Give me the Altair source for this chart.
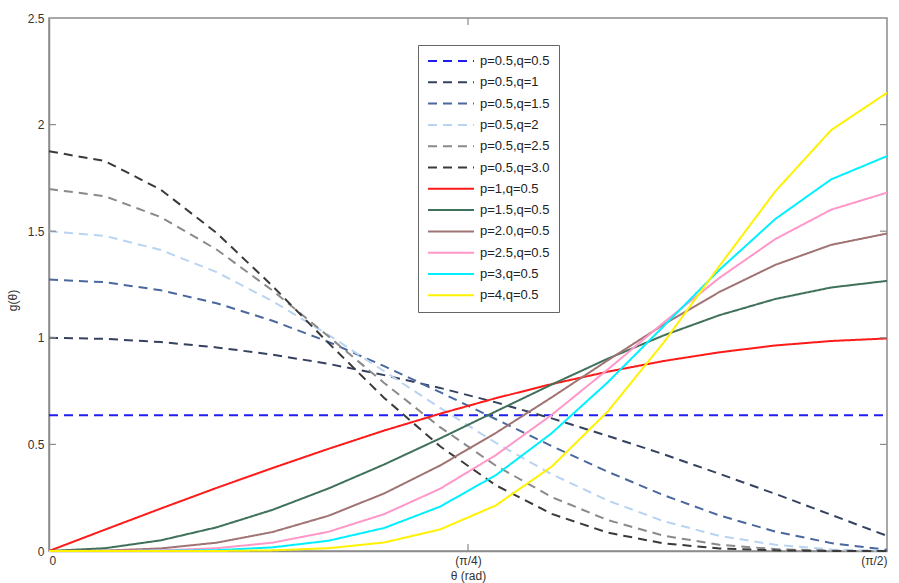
import altair as alt
import pandas as pd

# Sample angles (rad)
theta = [0.0, 0.1, 0.2, 0.3, 0.4, 0.5, 0.6, 0.7, 0.8, 0.9, 1.0, 1.1, 1.2, 1.3, 1.4, 1.5]

series_names = [
    "p=0.5,q=0.5", "p=0.5,q=1", "p=0.5,q=1.5", "p=0.5,q=2", "p=0.5,q=2.5", "p=0.5,q=3.0",
    "p=1,q=0.5", "p=1.5,q=0.5", "p=2.0,q=0.5", "p=2.5,q=0.5", "p=3,q=0.5", "p=4,q=0.5",
]

g_p05_q05 = [0.637, 0.637, 0.637, 0.637, 0.637, 0.637, 0.637, 0.637, 0.637, 0.637, 0.637, 0.637, 0.637, 0.637, 0.637, 0.637]
g_p05_q1 = [1.000, 0.995, 0.980, 0.955, 0.921, 0.878, 0.825, 0.765, 0.697, 0.622, 0.540, 0.454, 0.362, 0.268, 0.170, 0.071]
g_p05_q15 = [1.273, 1.261, 1.223, 1.162, 1.080, 0.981, 0.867, 0.745, 0.618, 0.492, 0.372, 0.262, 0.167, 0.091, 0.037, 0.006]
g_p05_q2 = [1.500, 1.478, 1.412, 1.308, 1.172, 1.014, 0.843, 0.671, 0.507, 0.360, 0.237, 0.140, 0.071, 0.029, 0.007, 0.001]
g_p05_q25 = [1.698, 1.664, 1.566, 1.414, 1.222, 1.007, 0.788, 0.581, 0.400, 0.253, 0.145, 0.072, 0.029, 0.009, 0.001, 0.000]
g_p05_q3 = [1.875, 1.829, 1.695, 1.492, 1.243, 0.976, 0.718, 0.491, 0.308, 0.174, 0.086, 0.036, 0.012, 0.003, 0.000, 0.000]
g_p1_q05 = [0.000, 0.100, 0.199, 0.296, 0.389, 0.479, 0.565, 0.644, 0.717, 0.783, 0.841, 0.891, 0.932, 0.964, 0.985, 0.997]
g_p15_q05 = [0.000, 0.013, 0.050, 0.111, 0.193, 0.293, 0.406, 0.528, 0.655, 0.781, 0.902, 1.011, 1.106, 1.182, 1.236, 1.267]
g_p2_q05 = [0.000, 0.002, 0.012, 0.039, 0.089, 0.165, 0.270, 0.401, 0.554, 0.721, 0.894, 1.062, 1.215, 1.342, 1.436, 1.489]
g_p25_q05 = [0.000, 0.000, 0.003, 0.013, 0.039, 0.090, 0.173, 0.292, 0.450, 0.639, 0.851, 1.071, 1.281, 1.463, 1.601, 1.681]
g_p3_q05 = [0.000, 0.000, 0.001, 0.004, 0.017, 0.048, 0.108, 0.208, 0.356, 0.553, 0.791, 1.054, 1.319, 1.557, 1.743, 1.852]
g_p4_q05 = [0.000, 0.000, 0.000, 0.000, 0.003, 0.013, 0.040, 0.101, 0.214, 0.396, 0.654, 0.977, 1.337, 1.687, 1.974, 2.149]

series_values = [
    g_p05_q05, g_p05_q1, g_p05_q15, g_p05_q2, g_p05_q25, g_p05_q3,
    g_p1_q05, g_p15_q05, g_p2_q05, g_p25_q05, g_p3_q05, g_p4_q05,
]

colors = [
    "#1e1ef0", "#34425f", "#4a679e", "#b8d4f2", "#8a8a8a", "#3a3a3a",
    "#ff1a1a", "#40715a", "#a07474", "#ff98c8", "#00f0ff", "#fff200",
]
DASH = [9, 6]
SOLID = [1, 0]
dashes = [DASH] * 6 + [SOLID] * 6

rows = []
for name, vals in zip(series_names, series_values):
    for t, v in zip(theta, vals):
        rows.append({"theta": t, "g": v, "series": name})
df = pd.DataFrame(rows)

ytick_df = pd.DataFrame({"g": [0.5, 1.0, 1.5, 2.0]})
xtick_df = pd.DataFrame({"theta": [0.75]})

W, H = 838, 533
AXIS = "#8c8c8c"
FONT = "Liberation Sans"
X_TITLE = "θ (rad)"
Y_TITLE = "g(θ)"

x_scale = alt.Scale(domain=[0, 1.5], nice=False, zero=False)
y_scale = alt.Scale(domain=[0, 2.5], nice=False)

x_axis = alt.Axis(
    values=[0, 0.75, 1.5],
    labelExpr="datum.value == 0 ? '0' : (datum.value < 1 ? '(π/4)' : '(π/2)')",
    titleY=24, titleBaseline="middle",
)
y_axis = alt.Axis(
    values=[0, 0.5, 1, 1.5, 2, 2.5], format="~g",
    titleX=-37, titleY=282, titleBaseline="middle",
)

# Legend key: a horizontal stroke drawn as a custom path
legend = alt.Legend(
    orient="none", legendX=369, legendY=27, title=None,
    fillColor="white", strokeColor="#666666", padding=9, cornerRadius=0,
    symbolType="M-3.833,0H3.833", symbolSize=144, symbolStrokeWidth=2,
    symbolOffset=17, rowPadding=7.3,
    labelFontSize=13, labelFont=FONT, labelColor="#222222", labelOffset=22,
)

lines = alt.Chart(df).mark_line(strokeWidth=2).encode(
    x=alt.X("theta:Q", scale=x_scale, axis=x_axis, title=X_TITLE),
    y=alt.Y("g:Q", scale=y_scale, axis=y_axis, title=Y_TITLE),
    color=alt.Color("series:N", scale=alt.Scale(domain=series_names, range=colors), legend=legend),
    strokeDash=alt.StrokeDash("series:N", scale=alt.Scale(domain=series_names, range=dashes), legend=legend),
)

# Inward tick marks on all four sides of the box
tick_kw = dict(color=AXIS, strokeWidth=1.2)
ytick_left = alt.Chart(ytick_df).mark_rule(**tick_kw).encode(
    y=alt.Y("g:Q", scale=y_scale, axis=y_axis, title=Y_TITLE), x=alt.value(0), x2=alt.value(7))
ytick_right = alt.Chart(ytick_df).mark_rule(**tick_kw).encode(
    y=alt.Y("g:Q", scale=y_scale, axis=y_axis, title=Y_TITLE), x=alt.value(W), x2=alt.value(W - 7))
xtick_bottom = alt.Chart(xtick_df).mark_rule(**tick_kw).encode(
    x=alt.X("theta:Q", scale=x_scale, axis=x_axis, title=X_TITLE), y=alt.value(H), y2=alt.value(H - 7))
xtick_top = alt.Chart(xtick_df).mark_rule(**tick_kw).encode(
    x=alt.X("theta:Q", scale=x_scale, axis=x_axis, title=X_TITLE), y=alt.value(0), y2=alt.value(7))

chart = alt.layer(lines, ytick_left, ytick_right, xtick_bottom, xtick_top).properties(
    width=W, height=H,
    autosize=alt.AutoSizeParams(type="none"),
    padding={"left": 49, "top": 18, "right": 12, "bottom": 32},
    background="white",
).configure_view(
    stroke=AXIS, strokeWidth=1.5,
).configure_axis(
    grid=False, tickSize=0, domainColor=AXIS, domainWidth=1.5,
    labelFont=FONT, labelFontSize=12, labelColor="#333333", labelPadding=4,
    titleFont=FONT, titleFontSize=12, titleColor="#333333", titleFontWeight="normal",
).configure_axisY(
    labelPadding=5,
)

chart.save("out.html", embed_options={"renderer": "svg", "actions": False})
